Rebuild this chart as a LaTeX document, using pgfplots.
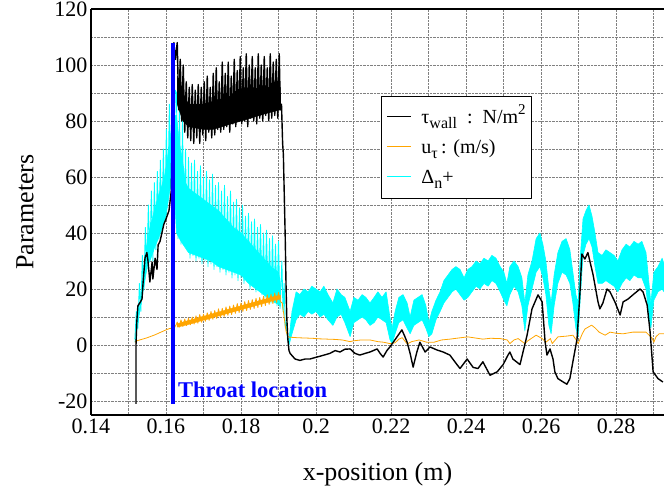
\documentclass[border=0pt]{standalone}
\usepackage{fontspec}
\setmainfont{Liberation Serif}
\usepackage{pgfplots}
\pgfplotsset{compat=1.18}
\definecolor{uorange}{RGB}{255,165,0}
\definecolor{dcyan}{RGB}{0,255,255}
\definecolor{tblue}{RGB}{0,0,255}
\newcommand{\lsub}[1]{\raisebox{-0.55ex}{\fontsize{16}{16}\selectfont #1}}
\newcommand{\lsup}[1]{\raisebox{0.95ex}{\fontsize{15}{15}\selectfont #1}}
\newcommand{\lline}[1]{\textcolor{#1}{\rule[0.3em]{24pt}{1pt}}}

\begin{document}
\begin{tikzpicture}
\begin{axis}[
    width=573pt, height=406pt, scale only axis,
    xmin=0.14, xmax=0.2928, ymin=-25, ymax=120,
    xtick={0.14,0.16,0.18,0.2,0.22,0.24,0.26,0.28},
    xticklabels={0.14,0.16,0.18,0.2,0.22,0.24,0.26,0.28},
    minor xtick={0.15,0.17,0.19,0.21,0.23,0.25,0.27,0.29},
    ytick={-20,0,20,40,60,80,100,120},
    yticklabels={-20,0,20,40,60,80,100,120},
    minor ytick={-10,10,30,50,70,90,110},
    grid=both,
    major grid style={densely dotted, gray, line width=0.7pt},
    minor grid style={densely dotted, gray, line width=0.7pt},
    major tick length=0pt, minor tick length=0pt,
    axis x line*=box, axis y line*=left,
    axis line style={line width=1.2pt},
    ticklabel style={font=\fontsize{22}{24}\selectfont},
    xlabel={x-position (m)}, ylabel={Parameters},
    label style={font=\fontsize{26}{30}\selectfont},
    xlabel style={at={(axis description cs:0.5,-0.1453)}, anchor=center},
    ylabel style={at={(axis description cs:-0.1152,0.5)}, anchor=center},
    line join=round
]
% Delta_n+ : solid core of the oscillating region up to the shock
\addplot[dcyan, fill=dcyan, line width=0.5pt] coordinates {
(0.1517,1) (0.1525,8) (0.1533,18) (0.1541,28) (0.1549,36) (0.1557,42) (0.1565,46) (0.1573,50)
(0.1581,54) (0.1589,57) (0.1597,61) (0.1605,68) (0.1613,76) (0.1621,82) (0.1628,82) (0.1636,72)
(0.1644,66) (0.1652,58) (0.1660,56) (0.1680,54) (0.1700,52) (0.1720,50) (0.1740,48) (0.1760,45)
(0.1780,42) (0.1800,40) (0.1820,37) (0.1840,34) (0.1860,31) (0.1880,28) (0.1900,26) (0.1905,22)
(0.1905,14) (0.1880,16) (0.1860,18) (0.1840,20) (0.1820,22) (0.1800,25) (0.1780,26) (0.1760,27)
(0.1740,28) (0.1720,30) (0.1700,31) (0.1680,32) (0.1660,33) (0.1640,37) (0.1628,40) (0.1620,60)
(0.1610,55) (0.1600,46) (0.1590,42) (0.1580,38) (0.1570,35) (0.1560,31) (0.1550,28) (0.1540,20)
(0.1530,12) (0.1520,3)
};
% Delta_n+ : oscillation spikes
\addplot[dcyan, line width=0.9pt] coordinates {
(0.1517,2) (0.1521,12) (0.1525,6) (0.1529,22) (0.1533,12) (0.1537,32) (0.1541,20) (0.1545,42)
(0.1549,27) (0.1553,50) (0.1557,30) (0.1561,55) (0.1565,30) (0.1569,58) (0.1573,34) (0.1577,62)
(0.1581,38) (0.1585,66) (0.1589,41) (0.1593,70) (0.1597,45) (0.1601,77) (0.1605,52) (0.1609,86)
(0.1613,60) (0.1617,90) (0.1621,70) (0.1625,91)
(0.1628,90) (0.1632,38) (0.1636,86) (0.1640,36) (0.1644,80) (0.1648,36) (0.1652,70) (0.1656,34)
(0.1660,67) (0.1664,31) (0.1668,65) (0.1672,32) (0.1676,66) (0.1680,30) (0.1684,62) (0.1688,31)
(0.1692,64) (0.1696,29) (0.1700,60) (0.1704,30) (0.1708,62) (0.1712,28) (0.1716,59) (0.1720,29)
(0.1724,61) (0.1728,27) (0.1732,57) (0.1736,28) (0.1740,58) (0.1744,26) (0.1748,55) (0.1752,27)
(0.1756,57) (0.1760,25) (0.1764,53) (0.1768,26) (0.1772,55) (0.1776,24) (0.1780,51) (0.1784,25)
(0.1788,52) (0.1792,23) (0.1796,49) (0.1800,24) (0.1804,50) (0.1808,22) (0.1812,46) (0.1816,23)
(0.1820,47) (0.1824,20) (0.1828,44) (0.1832,21) (0.1836,45) (0.1840,19) (0.1844,42) (0.1848,20)
(0.1852,43) (0.1856,18) (0.1860,40) (0.1864,17) (0.1868,41) (0.1872,16) (0.1876,38) (0.1880,15)
(0.1884,39) (0.1888,15) (0.1892,36) (0.1896,14) (0.1900,37) (0.1904,13) (0.1909,30) (0.1912,12)
(0.1915,22) (0.1918,6) (0.1921,8) (0.1924,2) (0.1927,1) (0.1930,4)
};
% Delta_n+ : downstream band (upper edge, then lower edge back)
\addplot[dcyan, fill=dcyan, line width=0.6pt] coordinates {
(0.1928,2) (0.1936,12) (0.1947,19) (0.1957,18) (0.1968,20) (0.1979,19) (0.1989,21) (0.2000,20)
(0.2011,19) (0.2021,21) (0.2032,18) (0.2045,15) (0.2056,20) (0.2067,18) (0.2077,17) (0.2091,12)
(0.2101,17) (0.2112,16) (0.2123,18) (0.2133,17) (0.2144,15) (0.2155,17) (0.2165,19) (0.2176,17)
(0.2187,19) (0.2197,10) (0.2203,6) (0.2211,12) (0.2221,17) (0.2232,18) (0.2243,15) (0.2251,10)
(0.2261,16) (0.2272,17) (0.2283,18) (0.2293,14) (0.2301,8) (0.2309,12) (0.2320,16) (0.2331,19)
(0.2341,23) (0.2352,25) (0.2363,27) (0.2373,28) (0.2384,27) (0.2395,24) (0.2405,27) (0.2416,28)
(0.2427,30) (0.2437,29) (0.2448,31) (0.2459,30) (0.2469,32) (0.2480,31) (0.2491,28) (0.2501,26)
(0.2509,22) (0.2517,28) (0.2528,30) (0.2539,28) (0.2549,24) (0.2557,15) (0.2565,25) (0.2576,30)
(0.2587,38) (0.2597,40) (0.2605,36) (0.2613,30) (0.2621,20) (0.2627,15) (0.2635,25) (0.2645,33)
(0.2656,37) (0.2667,38) (0.2677,34) (0.2685,26) (0.2693,18) (0.2699,15) (0.2704,30) (0.2712,45)
(0.2720,48) (0.2728,50) (0.2736,46) (0.2744,40) (0.2752,33) (0.2763,32) (0.2773,34) (0.2784,33)
(0.2795,32) (0.2805,30) (0.2816,34) (0.2827,36) (0.2837,35) (0.2848,37) (0.2859,36) (0.2869,37)
(0.2880,33) (0.2888,22) (0.2893,15) (0.2901,26) (0.2912,28) (0.2923,31) (0.2928,29)
(0.2928,19) (0.2923,20) (0.2912,19) (0.2901,16) (0.2893,6) (0.2888,10) (0.2880,20) (0.2869,24)
(0.2859,24) (0.2848,25) (0.2837,23) (0.2827,24) (0.2816,22) (0.2805,19) (0.2795,21) (0.2784,22)
(0.2773,23) (0.2763,22) (0.2752,22) (0.2744,28) (0.2736,35) (0.2728,38) (0.2720,36) (0.2712,32)
(0.2704,15) (0.2699,3) (0.2693,6) (0.2685,15) (0.2677,22) (0.2667,25) (0.2656,26) (0.2645,22)
(0.2635,14) (0.2627,4) (0.2621,7) (0.2613,18) (0.2605,24) (0.2597,28) (0.2587,26) (0.2576,20)
(0.2565,14) (0.2557,5) (0.2549,14) (0.2539,19) (0.2528,21) (0.2517,18) (0.2509,14) (0.2501,16)
(0.2491,19) (0.2480,22) (0.2469,23) (0.2459,21) (0.2448,22) (0.2437,20) (0.2427,21) (0.2416,19)
(0.2405,17) (0.2395,16) (0.2384,18) (0.2373,20) (0.2363,19) (0.2352,17) (0.2341,15) (0.2331,12)
(0.2320,9) (0.2309,4) (0.2301,3) (0.2293,6) (0.2283,9) (0.2272,8) (0.2261,7) (0.2251,4)
(0.2243,6) (0.2232,9) (0.2221,8) (0.2211,4) (0.2203,0.5) (0.2197,2) (0.2187,8) (0.2176,9)
(0.2165,10) (0.2155,8) (0.2144,7) (0.2133,9) (0.2123,10) (0.2112,9) (0.2101,8) (0.2091,3)
(0.2077,8) (0.2067,11) (0.2056,10) (0.2045,7) (0.2032,9) (0.2021,11) (0.2011,10) (0.2000,12)
(0.1989,11) (0.1979,12) (0.1968,10) (0.1957,11) (0.1947,9) (0.1936,4) (0.1928,0)
};

% u_tau : band of the oscillating part
\addplot[uorange, fill=uorange, line width=0.4pt] coordinates {
(0.1630,7.6) (0.1650,8.4) (0.1670,9.1) (0.1690,9.9) (0.1710,10.6) (0.1730,11.4) (0.1750,12.1)
(0.1770,12.9) (0.1790,13.6) (0.1810,14.4) (0.1830,15.1) (0.1850,15.9) (0.1870,16.6) (0.1890,17.4)
(0.1905,17.8) (0.1905,16.4) (0.1890,16.0) (0.1870,15.2) (0.1850,14.5) (0.1830,13.7) (0.1810,13.0)
(0.1790,12.2) (0.1770,11.5) (0.1750,10.7) (0.1730,10.0) (0.1710,9.2) (0.1690,8.5) (0.1670,7.7)
(0.1650,7.0) (0.1630,6.4)
};
% u_tau
\addplot[uorange, line width=0.8pt] coordinates {
(0.1517,1) (0.1522,1.5) (0.1530,1.8) (0.1540,2.2) (0.1550,2.6) (0.1560,3.1) (0.1570,3.6) (0.1580,4.2)
(0.1590,4.8) (0.1600,5.4) (0.1610,5.9) (0.1616,6.0) (0.1620,5.4) (0.1624,6.5) (0.1628,7.5)
(0.1630,8.2) (0.1635,6.3) (0.1640,9.0) (0.1645,6.6) (0.1650,9.3) (0.1655,6.9) (0.1660,9.6) (0.1665,7.2)
(0.1670,10.0) (0.1675,7.5) (0.1680,10.4) (0.1685,7.8) (0.1690,10.9) (0.1695,8.1) (0.1700,11.0) (0.1705,8.5)
(0.1710,11.5) (0.1715,8.8) (0.1720,12.0) (0.1725,9.2) (0.1730,12.3) (0.1735,9.5) (0.1740,12.9) (0.1745,9.9)
(0.1750,13.1) (0.1755,10.2) (0.1760,13.6) (0.1765,10.6) (0.1770,13.9) (0.1775,10.9) (0.1780,14.3) (0.1785,11.3)
(0.1790,14.8) (0.1795,11.6) (0.1800,15.0) (0.1805,12.0) (0.1810,15.5) (0.1815,12.3) (0.1820,15.9) (0.1825,12.7)
(0.1830,16.2) (0.1835,13.0) (0.1840,16.7) (0.1845,13.4) (0.1850,17.0) (0.1855,13.7) (0.1860,17.4) (0.1865,14.1)
(0.1870,17.9) (0.1875,14.5) (0.1880,18.2) (0.1885,14.8) (0.1890,18.6) (0.1895,15.2) (0.1900,18.8) (0.1905,15.5)
(0.1910,15) (0.1915,10) (0.1920,5) (0.1925,3) (0.1930,2.8) (0.1950,2.6) (0.1970,2.5) (0.1990,2.4)
(0.2010,2.2) (0.2030,2.1) (0.2050,2.0) (0.2070,1.8) (0.2091,1.2) (0.2100,1.5) (0.2120,1.8) (0.2144,1.8)
(0.2165,1.2) (0.2180,1.0) (0.2197,0.5) (0.2211,0.8) (0.2221,2.1) (0.2230,2.6) (0.2243,0.4) (0.2255,1.2)
(0.2275,1.8) (0.2295,1.0) (0.2315,1.0) (0.2335,1.8) (0.2357,2.1) (0.2380,2.5) (0.2405,2.9) (0.2425,2.5)
(0.2445,2.1) (0.2465,2.4) (0.2491,2.3) (0.2510,1.8) (0.2517,0.5) (0.2528,1.8) (0.2539,2.3) (0.2557,0.5)
(0.2565,1.5) (0.2587,3.5) (0.2603,2.3) (0.2613,1.0) (0.2625,2.3) (0.2630,0.5) (0.2645,2.9) (0.2670,3.2)
(0.2685,3.5) (0.2693,2.0) (0.2699,0.5) (0.2710,4.0) (0.2717,5.7) (0.2735,7.1) (0.2745,6.0) (0.2755,4.6)
(0.2771,3.5) (0.2784,4.6) (0.2800,4.2) (0.2819,4.0) (0.2845,4.6) (0.2880,4.6) (0.2896,2.5) (0.2901,1.0)
(0.2907,3.0) (0.2915,4.0) (0.2928,4.0)
};

% tau_wall : solid core of the oscillating part
\addplot[black, fill=black, line width=0.5pt] coordinates {
(0.1630,96) (0.1645,90) (0.1660,86) (0.1700,86) (0.1725,87) (0.1750,88) (0.1775,89) (0.1800,90)
(0.1825,91) (0.1850,92) (0.1875,92) (0.1905,92)
(0.1905,84) (0.1875,83) (0.1850,82) (0.1825,81) (0.1800,80) (0.1775,79) (0.1750,78) (0.1725,77)
(0.1700,77) (0.1660,78) (0.1645,80) (0.1630,86)
};
% tau_wall
\addplot[black, line width=1.4pt] coordinates {
(0.1520,-21) (0.1520,0) (0.1522,8) (0.1525,14) (0.1530,15) (0.1536,16.4) (0.1539,22.5) (0.1544,31)
(0.1549,33) (0.1552,30) (0.1557,22.5) (0.1563,29.6) (0.1565,23.6) (0.1571,31) (0.1576,27) (0.1579,35.7)
(0.1584,37) (0.1589,40) (0.1594,43) (0.1600,45) (0.1608,48) (0.1614,55) (0.1617,80) (0.1619,100)
(0.1621,108) (0.1625,102)
(0.1630,108) (0.1634,84) (0.1638,102) (0.1642,80) (0.1646,100) (0.1650,76) (0.1654,94) (0.1658,74)
(0.1662,92) (0.1666,73) (0.1670,93) (0.1674,72) (0.1678,91) (0.1682,74) (0.1686,93) (0.1690,72)
(0.1694,92) (0.1698,75) (0.1702,94) (0.1706,73) (0.1710,96) (0.1714,76) (0.1718,92) (0.1722,74)
(0.1726,97) (0.1730,75) (0.1734,99) (0.1738,77) (0.1742,94) (0.1746,76) (0.1750,101) (0.1754,77)
(0.1758,97) (0.1762,78) (0.1766,101) (0.1770,76) (0.1774,96) (0.1778,79) (0.1782,102) (0.1786,78)
(0.1790,98) (0.1794,80) (0.1798,103) (0.1802,79) (0.1806,99) (0.1810,80) (0.1814,104) (0.1818,78)
(0.1822,100) (0.1826,81) (0.1830,103) (0.1834,80) (0.1838,99) (0.1842,79) (0.1846,104) (0.1850,81)
(0.1854,100) (0.1858,80) (0.1862,103) (0.1866,82) (0.1870,99) (0.1874,80) (0.1878,104) (0.1882,81)
(0.1886,101) (0.1890,82) (0.1894,102) (0.1898,81) (0.1902,104) (0.1905,84)
(0.1908,86) (0.1911,72) (0.1913,68) (0.1916,50) (0.1918,38) (0.1920,22) (0.1922,10) (0.1925,2)
(0.1928,-2) (0.1931,-3) (0.1944,-5) (0.1957,-5.5) (0.1971,-5) (0.1984,-5) (0.1997,-4.5) (0.2011,-4)
(0.2024,-3.5) (0.2037,-3) (0.2051,-2) (0.2064,-2.5) (0.2077,-1.5) (0.2091,-1.4) (0.2104,-3) (0.2117,-3.6)
(0.2131,-3) (0.2144,-2.5) (0.2163,-1.4) (0.2171,-3) (0.2179,-4.3) (0.2189,-2) (0.2197,-0.7) (0.2216,2.9)
(0.2229,5.4) (0.2237,3) (0.2243,1) (0.2251,-3) (0.2259,-7.9) (0.2269,-2.5) (0.2277,1) (0.2291,-2.5)
(0.2304,-0.7) (0.2323,-1.8) (0.2339,-2.5) (0.2357,-3.6) (0.2376,-7) (0.2384,-8.4) (0.2403,-5) (0.2419,-8)
(0.2432,-8.4) (0.2445,-6) (0.2464,-10.8) (0.2483,-9.6) (0.2499,-7) (0.2512,-3.6) (0.2517,-2.5) (0.2525,-5)
(0.2544,-7) (0.2563,3.6) (0.2576,12.9) (0.2592,17.9) (0.2603,15.4) (0.2611,1) (0.2616,-3.6) (0.2624,-1.4)
(0.2632,-5) (0.2637,-9.6) (0.2645,-12) (0.2659,-13.2) (0.2669,-14) (0.2677,-12) (0.2685,-6) (0.2696,2)
(0.2704,19) (0.2709,32.5) (0.2717,30.7) (0.2725,33) (0.2739,25) (0.2752,15.4) (0.2757,12.9) (0.2765,15)
(0.2776,20) (0.2784,19) (0.2797,15.4) (0.2811,10.7) (0.2819,15.4) (0.2832,16.4) (0.2845,17.9) (0.2864,20)
(0.2872,19) (0.2883,14.3) (0.2891,4.6) (0.2899,-9.6) (0.2912,-12) (0.2925,-13.2)
};

% throat location
\addplot[tblue, line width=4pt] coordinates {(0.1619,-21) (0.1619,108)};
\node[anchor=west, text=tblue, inner sep=0pt, font=\fontsize{22.5}{26}\selectfont\bfseries]
    at (axis cs:0.1632,-15.9) {Throat location};

% legend
\node[draw=black, line width=1pt, fill=white, anchor=north west, inner xsep=6pt, inner ysep=6pt,
      font=\fontsize{20}{23}\selectfont] at (axis description cs:0.506,0.786) {%
  \renewcommand{\arraystretch}{1.3}%
  \begin{tabular}{@{}l@{\hspace{10pt}}l@{}}
  \lline{black} & τ\lsub{wall}\enspace:\enspace N/m\lsup{2}\\
  \lline{uorange} & u\lsub{τ}\,: (m/s)\\
  \lline{dcyan} & Δ\lsub{n}+
  \end{tabular}};
\end{axis}
\pgfresetboundingbox
\path[use as bounding box] (-91pt,-76pt) rectangle (573pt,415pt);
\end{tikzpicture}
\end{document}
